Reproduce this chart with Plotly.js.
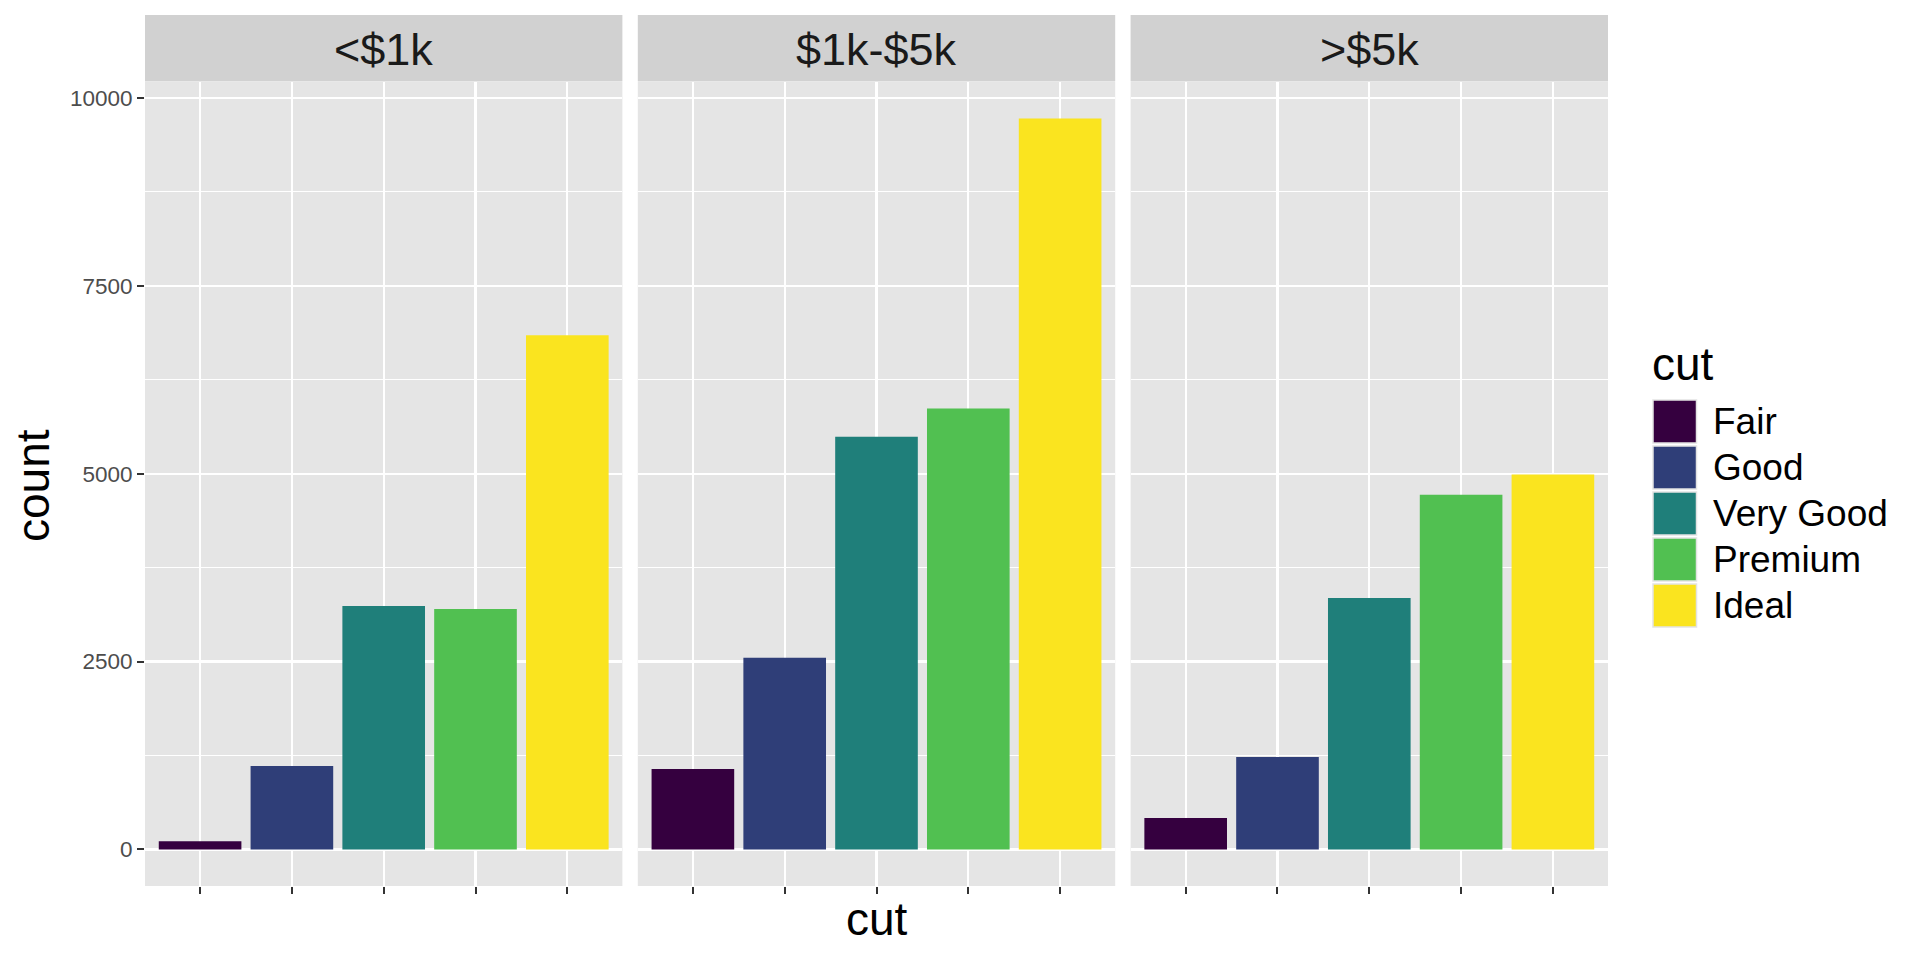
<!DOCTYPE html>
<html>
<head>
<meta charset="utf-8">
<script src="https://cdn.plot.ly/plotly-3.0.1.min.js"></script>
<style>html,body{margin:0;padding:0;background:#fff;}#chart{width:1920px;height:960px;}</style>
</head>
<body>
<div id="chart"></div>
<script>
// ---- data ----
const cuts = ["Fair", "Good", "Very Good", "Premium", "Ideal"];
const priceGroups = ["<$1k", "$1k-$5k", ">$5k"];
const countUnder1k = [110, 1110, 3240, 3200, 6840];
const count1kTo5k = [1070, 2550, 5490, 5865, 9724];
const countOver5k = [417, 1230, 3345, 4718, 4990];
const cutColors = ["#35003F", "#2F3E78", "#1F7F7A", "#51C051", "#FAE41F"];
const yTickVals = [0, 2500, 5000, 7500, 10000];
const yTickText = ["0", "2500", "5000", "7500", "10000"];

const panelCounts = [countUnder1k, count1kTo5k, countOver5k];

// ---- geometry helpers (pixel -> paper) ----
const W = 1920, H = 960;
const M = {l: 145, r: 312, t: 82, b: 74};
const PW = W - M.l - M.r, PH = H - M.t - M.b;
const px = x => (x - M.l) / PW;
const py = y => (H - M.b - y) / PH;

const gap = 15.4 / PW;
const w = (1 - 2 * gap) / 3;
const domains = [0, 1, 2].map(i => [i * (w + gap), i === 2 ? 1 : i * (w + gap) + w]);

const FONT = "Liberation Sans, Arial, Helvetica, sans-serif";
const yRange = [-486.2, 10210.2];

const traces = panelCounts.map((vals, i) => ({
  type: "bar",
  x: cuts,
  y: vals,
  xaxis: i === 0 ? "x" : "x" + (i + 1),
  yaxis: i === 0 ? "y" : "y" + (i + 1),
  width: 0.9,
  marker: {color: cutColors, line: {width: 0}},
  showlegend: false,
  hoverinfo: "x+y"
}));

const layout = {
  width: W, height: H,
  margin: M,
  paper_bgcolor: "#ffffff",
  plot_bgcolor: "#E5E5E5",
  showlegend: false,
  font: {family: FONT, color: "#000"},
  shapes: [],
  annotations: []
};

for (let i = 0; i < 3; i++) {
  const sfx = i === 0 ? "" : String(i + 1);
  layout["xaxis" + sfx] = {
    domain: domains[i],
    anchor: "y" + sfx,
    type: "category",
    range: [-0.6, 4.6],
    showgrid: true, gridcolor: "#ffffff", gridwidth: 2.2,
    zeroline: false, showline: false,
    ticks: "outside", ticklen: 7, tickwidth: 2, tickcolor: "#333333",
    showticklabels: false,
    fixedrange: true
  };
  const ya = {
    anchor: "x" + sfx,
    range: yRange,
    tickmode: "array", tickvals: yTickVals, ticktext: yTickText,
    showgrid: true, gridcolor: "#ffffff", gridwidth: 2.2,
    minor: {dtick: 1250, tick0: 1250, showgrid: true, gridcolor: "#ffffff", gridwidth: 1.1, ticks: ""},
    zeroline: false, showline: false,
    fixedrange: true
  };
  if (i === 0) {
    Object.assign(ya, {
      ticks: "outside", ticklen: 7, tickwidth: 2, tickcolor: "#333333",
      tickfont: {family: FONT, size: 22.5, color: "#4D4D4D"}
    });
  } else {
    Object.assign(ya, {matches: "y", ticks: "", showticklabels: false});
  }
  layout["yaxis" + sfx] = ya;

  // facet strip
  layout.shapes.push({
    type: "rect", xref: "paper", yref: "paper",
    x0: domains[i][0], x1: domains[i][1], y0: py(81.5), y1: py(15),
    fillcolor: "#D1D1D1", line: {width: 0}, layer: "below"
  });
  layout.annotations.push({
    xref: "paper", yref: "paper",
    x: (domains[i][0] + domains[i][1]) / 2, y: py(50),
    xanchor: "center", yanchor: "middle",
    text: priceGroups[i], showarrow: false,
    font: {family: FONT, size: 45, color: "#1A1A1A"}
  });
}

// axis titles
layout.annotations.push({
  xref: "paper", yref: "paper", x: 0.5, y: py(919),
  xanchor: "center", yanchor: "middle", text: "cut", showarrow: false,
  font: {family: FONT, size: 46, color: "#000"}
});
layout.annotations.push({
  xref: "paper", yref: "paper", x: px(33), y: py(486),
  xanchor: "center", yanchor: "middle", text: "count", textangle: -90, showarrow: false,
  font: {family: FONT, size: 46, color: "#000"}
});

// legend (drawn manually so keys match the reference size)
layout.annotations.push({
  xref: "paper", yref: "paper", x: px(1650), y: py(364),
  xanchor: "left", yanchor: "middle", text: "cut", showarrow: false,
  font: {family: FONT, size: 46, color: "#000"}
});
cuts.forEach((c, k) => {
  const top = 400 + k * 46;
  layout.shapes.push({
    type: "rect", xref: "paper", yref: "paper",
    x0: px(1653), x1: px(1696.5), y0: py(top + 43), y1: py(top),
    fillcolor: cutColors[k], line: {color: "#E3E3E3", width: 1.5}
  });
  layout.annotations.push({
    xref: "paper", yref: "paper", x: px(1711), y: py(top + 21.5),
    xanchor: "left", yanchor: "middle", text: c, showarrow: false,
    font: {family: FONT, size: 37, color: "#000"}
  });
});

Plotly.newPlot("chart", traces, layout, {displayModeBar: false, staticPlot: true});
</script>
</body>
</html>
